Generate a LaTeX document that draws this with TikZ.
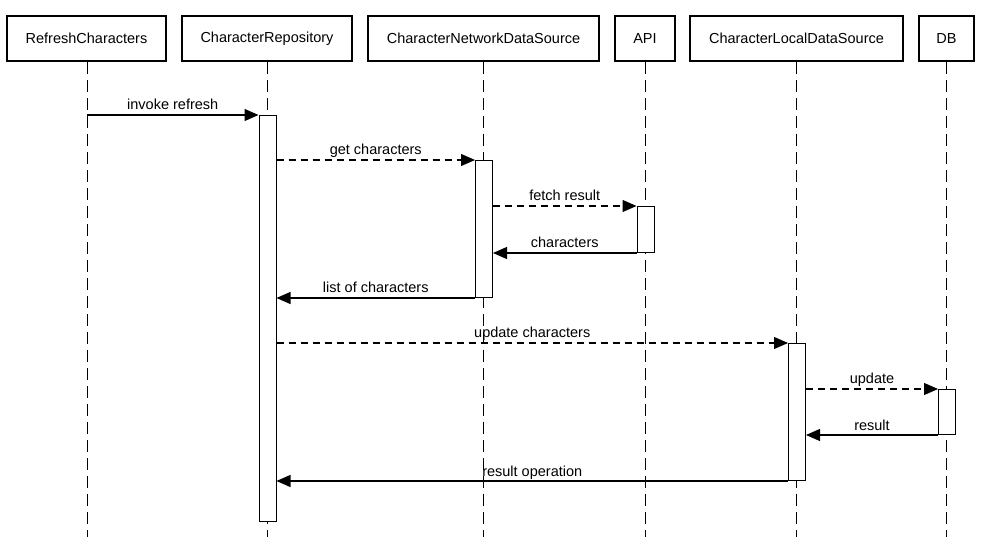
\documentclass[tikz,border=0pt]{standalone}
\usepackage{fontspec}
\setmainfont{Liberation Sans}
\usetikzlibrary{arrows.meta}
\begin{document}
\begin{tikzpicture}[x=1pt,y=-1pt,
  font=\fontsize{14.5}{17}\selectfont,
  participant/.style={draw,line width=1.8pt,minimum height=45pt,inner sep=0pt,fill=white},
  lifeline/.style={line width=1pt,dash pattern=on 12pt off 6pt},
  act/.style={draw,line width=1pt,fill=white,minimum width=17pt,inner sep=0pt,anchor=north west},
  msg/.style={line width=1.2pt,-{Triangle[length=14pt,width=12pt]}},
  dmsg/.style={msg,line width=1.1pt,dash pattern=on 7pt off 5pt},
  lbl/.style={midway,anchor=base,yshift=5pt,inner sep=0pt}
]
\useasboundingbox (0,0) rectangle (983,537);
% participants
\node[participant,minimum width=159pt] (rc) at (86.5,38.5) {RefreshCharacters};
\node[participant,minimum width=170pt] (cr) at (267,38.5) {CharacterRepository};
\node[participant,minimum width=231pt] (cnds) at (483.5,38.5) {CharacterNetworkDataSource};
\node[participant,minimum width=60pt] (api) at (645,38.5) {API};
\node[participant,minimum width=213pt] (clds) at (796.5,38.5) {CharacterLocalDataSource};
\node[participant,minimum width=55pt] (db) at (946.5,38.5) {DB};
% lifeline ends
\coordinate (rcE) at (87,537);
\coordinate (crE) at (267,537);
\coordinate (cndsE) at (483.5,537);
\coordinate (apiE) at (645,537);
\coordinate (cldsE) at (796.5,537);
\coordinate (dbE) at (946.5,537);
\draw[lifeline] (rc.south -| rcE) -- (rcE);
\draw[lifeline] (cr.south) -- (crE);
\draw[lifeline] (cnds.south) -- (cndsE);
\draw[lifeline] (api.south) -- (apiE);
\draw[lifeline] (clds.south) -- (cldsE);
\draw[lifeline] (db.south) -- (dbE);
% activations
\node[act,minimum height=406pt] (aCR) at (258.5,115) {};
\node[act,minimum height=137pt] (aCNDS) at (475,160) {};
\node[act,minimum height=46pt] (aAPI) at (636.5,206) {};
\node[act,minimum height=137pt] (aCLDS) at (788,343) {};
\node[act,minimum height=45pt] (aDB) at (938,389) {};
% messages
\coordinate (rcS) at (87,115);
\draw[msg] (rcS) -- (aCR.north west) node[lbl] {invoke refresh};
\draw[dmsg] (aCR.east |- aCNDS.north) -- (aCNDS.north west) node[lbl] {get characters};
\draw[dmsg] (aCNDS.east |- aAPI.north) -- (aAPI.north west) node[lbl] {fetch result};
\draw[msg] (aAPI.south west) -- (aCNDS.east |- aAPI.south) node[lbl] {characters};
\draw[msg] (aCNDS.south west) -- (aCR.east |- aCNDS.south) node[lbl] {list of characters};
\draw[dmsg] (aCR.east |- aCLDS.north) -- (aCLDS.north west) node[lbl] {update characters};
\draw[dmsg] (aCLDS.east |- aDB.north) -- (aDB.north west) node[lbl] {update};
\draw[msg] (aDB.south west) -- (aCLDS.east |- aDB.south) node[lbl] {result};
\draw[msg] (aCLDS.south west) -- (aCR.east |- aCLDS.south) node[lbl] {result operation};
\end{tikzpicture}
\end{document}
